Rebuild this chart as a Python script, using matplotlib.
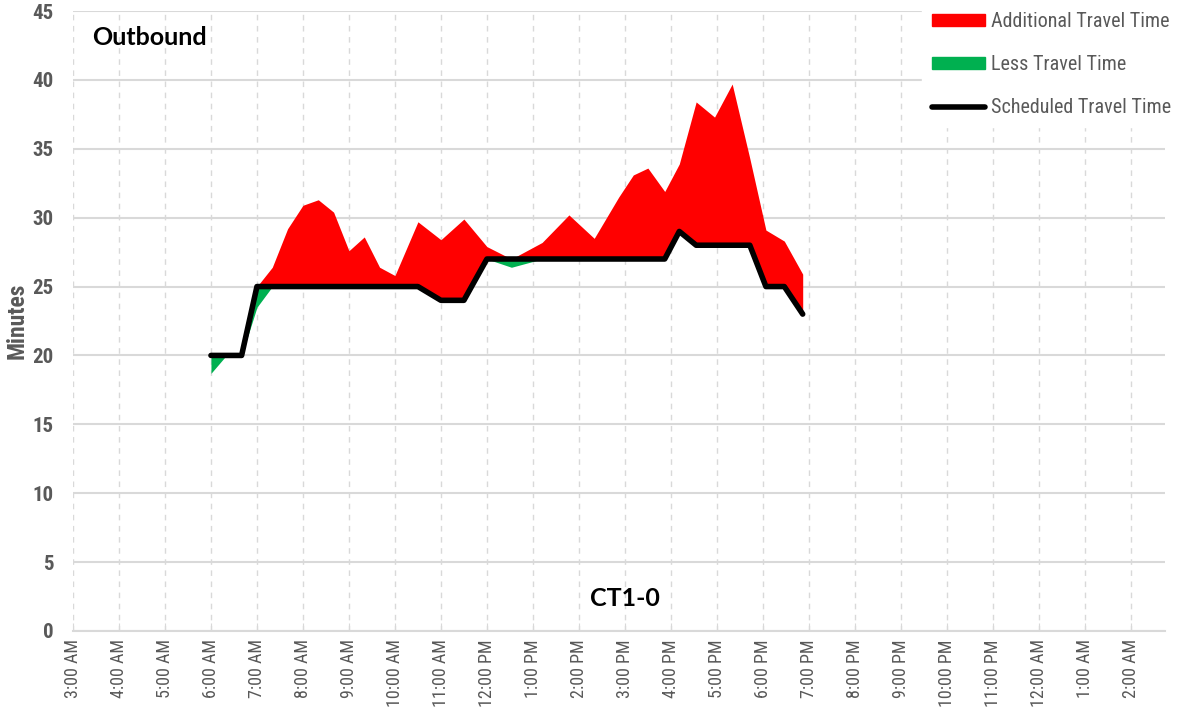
import numpy as np
import matplotlib.pyplot as plt
from matplotlib.patches import Patch
from matplotlib.lines import Line2D

# Datos (hora del viaje, minutos)
horas = ["06:00", "06:20", "06:40", "07:00", "07:20", "07:40", "08:00", "08:20",
         "08:40", "09:00", "09:20", "09:40", "10:00", "10:30", "11:00", "11:30",
         "12:00", "12:32", "13:12", "13:47", "14:20", "14:52", "15:11", "15:30",
         "15:52", "16:11", "16:33", "16:57", "17:20", "17:43", "18:04", "18:28",
         "18:52"]
tiempo_real = [18.7, 20.0, 20.2, 23.5, 26.4, 29.2, 30.9, 31.3,
               30.4, 27.6, 28.6, 26.4, 25.8, 29.7, 28.4, 29.9,
               27.9, 26.4, 28.2, 30.2, 28.5, 31.5, 33.1, 33.6,
               31.9, 33.9, 38.4, 37.3, 39.7, 34.3, 29.1, 28.3,
               25.9]
tiempo_programado = [20, 20, 20, 25, 25, 25, 25, 25,
                     25, 25, 25, 25, 25, 25, 24, 24,
                     27, 27, 27, 27, 27, 27, 27, 27,
                     27, 29, 28, 28, 28, 28, 25, 25,
                     23]

etiquetas_x = ["3:00 AM", "4:00 AM", "5:00 AM", "6:00 AM", "7:00 AM", "8:00 AM",
               "9:00 AM", "10:00 AM", "11:00 AM", "12:00 PM", "1:00 PM", "2:00 PM",
               "3:00 PM", "4:00 PM", "5:00 PM", "6:00 PM", "7:00 PM", "8:00 PM",
               "9:00 PM", "10:00 PM", "11:00 PM", "12:00 AM", "1:00 AM", "2:00 AM"]

# Convertir horas a decimales
x = np.array([int(h[:2]) + int(h[3:]) / 60 for h in horas])
real = np.array(tiempo_real)
prog = np.array(tiempo_programado, dtype=float)

# Capas apiladas como en Excel
base = np.minimum(real, prog)
extra = np.maximum(real - prog, 0)

fuente = ['Roboto Condensed', 'Roboto', 'DejaVu Sans']
gris = '#595959'

fig = plt.figure(figsize=(11.83, 7.25), dpi=100)
ax = fig.add_axes([0.0617, 0.1297, 0.9233, 0.8551])

ax.fill_between(x, base, prog, color='#00B050', lw=0, zorder=2)
ax.fill_between(x, prog, prog + extra, color='#FF0000', lw=0, zorder=2)
ax.plot(x, prog, color='black', lw=4, solid_capstyle='round', zorder=3)

ticks_x = np.arange(3, 27)
ax.set_xticks(ticks_x)
ax.set_xticklabels(etiquetas_x, rotation=90, family=fuente, fontsize=13, color=gris)
ax.set_xlim(3, 26.75)
ax.set_ylim(0, 45)
ax.set_yticks(np.arange(0, 46, 5))
for t in ax.get_yticklabels():
    t.set_family(fuente)
    t.set_fontsize(15)
    t.set_fontweight('bold')
    t.set_color(gris)

ax.grid(axis='y', color='#d9d9d9', lw=1.5, zorder=0)
ax.grid(axis='x', color='#d9d9d9', lw=1, ls=(0, (4, 4)), zorder=0)
for s in ['top', 'right', 'left']:
    ax.spines[s].set_visible(False)
ax.spines['bottom'].set_color('#d9d9d9')
ax.spines['bottom'].set_linewidth(1.5)
ax.tick_params(axis='x', direction='in', length=6, color='#d9d9d9', pad=6)
ax.tick_params(axis='y', length=0, pad=14)

ax.set_ylabel("Minutes", family=fuente, fontsize=17, fontweight='bold', color=gris, labelpad=3)

ax.text(0.0174, 0.957, "Outbound", transform=ax.transAxes, fontsize=18,
        fontweight='bold', va='center', family=['Lato', 'DejaVu Sans'])
ax.text(0.505, 0.053, "CT1-0", transform=ax.transAxes, fontsize=18,
        fontweight='bold', va='center', ha='center', family=['Lato', 'DejaVu Sans'])

manejadores = [Patch(color='#FF0000'), Patch(color='#00B050'),
               Line2D([], [], color='black', lw=4, solid_capstyle='round')]
nombres = ["Additional Travel Time", "Less Travel Time", "Scheduled Travel Time"]
leg = fig.legend(manejadores, nombres, loc='upper right', bbox_to_anchor=(1.0, 1.0),
                 frameon=True, framealpha=1, edgecolor='white', fancybox=False,
                 handlelength=2.6, handleheight=0.55, handletextpad=0.3,
                 labelspacing=1.2, borderpad=0.5, borderaxespad=0.1,
                 prop={'family': fuente, 'size': 14.5})
for t in leg.get_texts():
    t.set_color(gris)

fig.savefig("out.png", dpi=100)
